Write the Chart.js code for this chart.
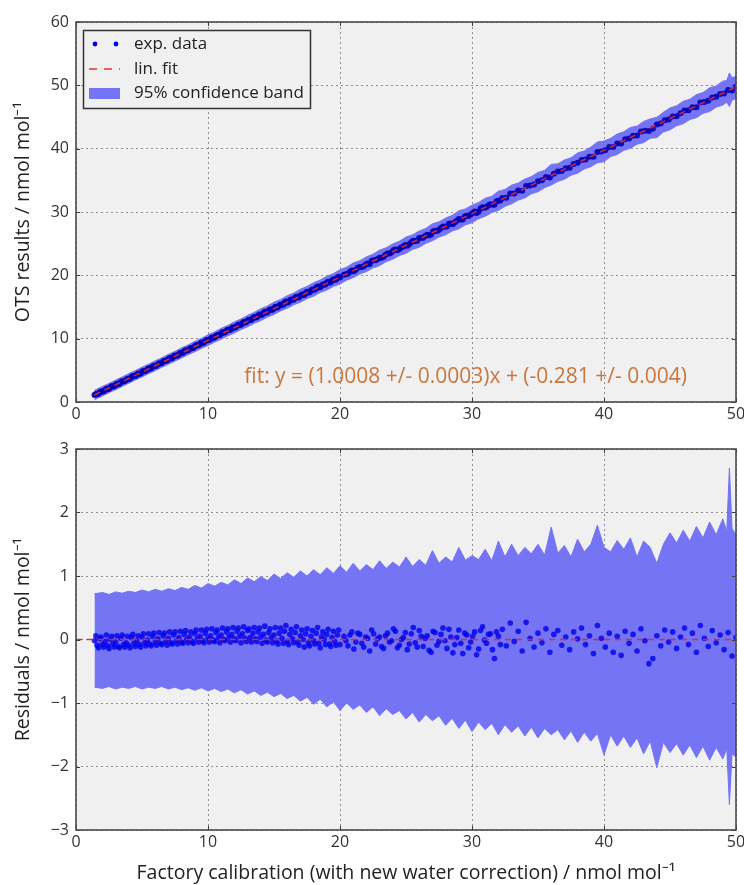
<!DOCTYPE html>
<html>
<head>
<meta charset="utf-8">
<script src="https://cdn.jsdelivr.net/npm/chart.js@4.4.0/dist/chart.umd.min.js"></script>
<style>
html,body{margin:0;padding:0;background:#ffffff;}
#wrap{position:relative;width:744px;height:885px;overflow:hidden;}
#c1{position:absolute;left:0;top:0;width:744px;height:430px;}
#c2{position:absolute;left:0;top:430px;width:744px;height:455px;}
</style>
</head>
<body>
<div id="wrap">
<canvas id="c1" width="744" height="430"></canvas>
<canvas id="c2" width="744" height="455"></canvas>
</div>
<script>
// ---------------- DATA ----------------
// Fit coefficients printed on the chart
const fitSlope = 1.0008;
const fitIntercept = -0.281;
const fitText = 'fit: y = (1.0008 +/- 0.0003)x + (-0.281 +/- 0.004)';

// x range of the fitted line
const fitX = [1.4, 50];
const residualZeroX = [0, 50];

// Experimental points: factory calibration (x) and residuals (OTS - fit)
const dataX = [
  1.4,1.6,1.8,2.0,2.2,2.4,2.6,2.8,3.0,3.2,
  3.4,3.6,3.8,4.0,4.2,4.4,4.6,4.8,5.0,5.2,
  5.4,5.6,5.8,6.0,6.2,6.4,6.6,6.8,7.0,7.2,
  7.4,7.6,7.8,8.0,8.2,8.4,8.6,8.8,9.0,9.2,
  9.4,9.6,9.8,10.0,10.2,10.4,10.6,10.8,11.0,11.2,
  11.4,11.6,11.8,12.0,12.2,12.4,12.6,12.8,13.0,13.2,
  13.4,13.6,13.8,14.0,14.2,14.4,14.6,14.8,15.0,15.2,
  15.4,15.6,15.8,16.0,16.2,16.4,16.6,16.8,17.0,17.2,
  17.4,17.6,17.8,18.0,18.2,18.4,18.6,18.8,19.0,19.2,
  19.4,19.6,19.8,20.0,
  1.5,1.7,1.9,2.1,2.3,2.5,2.7,2.9,3.1,3.3,
  3.5,3.7,3.9,4.1,4.3,4.5,4.7,4.9,5.1,5.3,
  5.5,5.7,5.9,6.1,6.3,6.5,6.7,6.9,7.1,7.3,
  7.5,7.7,7.9,8.1,8.3,8.5,8.7,8.9,9.1,9.3,
  9.5,9.7,9.9,10.1,10.3,10.5,10.7,10.9,11.1,11.3,
  11.5,11.7,11.9,12.1,12.3,12.5,12.7,12.9,13.1,13.3,
  13.5,13.7,13.9,14.1,14.3,14.5,14.7,14.9,15.1,15.3,
  15.5,15.7,15.9,16.1,16.3,16.5,16.7,16.9,17.1,17.3,
  17.5,17.7,17.9,18.1,18.3,18.5,18.7,18.9,19.1,19.3,
  19.5,19.7,19.9,
  20.3,20.6,20.9,21.2,21.5,21.8,22.1,22.4,22.7,23.0,
  23.3,23.6,23.9,24.2,24.5,24.8,25.1,25.4,25.7,26.0,
  26.3,26.6,26.9,27.2,27.5,27.8,28.1,28.4,28.7,29.0,
  29.3,29.6,29.9,30.2,30.5,30.8,31.1,31.4,31.7,32.0,
  32.3,32.6,32.9,33.2,33.5,33.8,34.1,34.4,34.7,35.0,
  35.3,35.6,35.9,36.2,36.5,36.8,37.1,37.4,37.7,38.0,
  38.3,38.6,38.9,39.2,39.5,39.8,40.1,40.4,40.7,41.0,
  41.3,41.6,41.9,42.2,42.5,42.8,43.1,43.4,43.7,44.0,
  44.3,44.6,44.9,45.2,45.5,45.8,46.1,46.4,46.7,47.0,
  47.3,47.6,47.9,48.2,48.5,48.8,49.1,49.4,49.7,50.0,
  20.45,20.75,21.05,21.35,21.65,21.95,22.25,22.55,22.85,23.15,
  23.45,23.75,24.05,24.35,24.65,24.95,25.25,25.55,25.85,26.15,
  26.45,26.75,27.05,27.35,27.65,27.95,28.25,28.55,28.85,29.15,
  29.45,29.75,30.05,30.35,30.65,30.95,31.25,31.55,31.85,32.15
];
const dataRes = [
  -0.02,-0.09,0.01,-0.08,-0.03,-0.10,0.00,-0.07,-0.04,-0.11,
  0.02,-0.08,-0.05,-0.09,0.03,-0.06,-0.02,-0.08,0.04,-0.05,
  -0.01,-0.07,0.05,-0.04,0.01,-0.06,0.06,-0.03,0.02,-0.05,
  0.07,-0.02,0.03,-0.04,0.08,0.00,0.04,-0.03,0.09,0.01,
  0.05,-0.02,0.10,0.02,0.06,-0.01,0.11,0.03,0.07,0.00,
  0.12,0.04,0.08,0.01,0.13,0.05,0.09,0.02,0.14,0.03,
  0.10,0.01,0.12,0.04,0.08,-0.01,0.11,0.03,0.07,-0.02,
  0.10,0.02,0.13,-0.03,0.08,0.01,0.11,-0.04,0.06,0.00,
  0.09,-0.05,0.05,-0.02,0.10,-0.06,0.04,0.00,0.08,-0.07,
  0.03,-0.03,0.07,-0.08,
  0.06,-0.13,0.04,-0.12,0.07,-0.14,0.05,-0.12,0.06,-0.13,
  0.07,-0.12,0.05,-0.13,0.08,-0.11,0.06,-0.12,0.09,-0.10,
  0.09,-0.10,0.10,-0.09,0.11,-0.08,0.10,-0.09,0.12,-0.07,
  0.12,-0.07,0.13,-0.06,0.14,-0.05,0.12,-0.06,0.15,-0.04,
  0.15,-0.05,0.16,-0.04,0.17,-0.03,0.15,-0.05,0.18,-0.02,
  0.17,-0.04,0.19,-0.02,0.18,-0.05,0.20,-0.03,0.17,-0.04,
  0.19,-0.03,0.18,-0.06,0.21,-0.04,0.17,-0.05,0.19,-0.07,
  0.18,-0.06,0.22,-0.08,0.16,-0.05,0.20,-0.09,0.15,-0.12,
  0.17,-0.10,0.14,-0.07,0.19,-0.13,0.12,-0.08,0.16,-0.11,
  0.13,-0.09,0.15,
  0.05,-0.10,0.12,-0.04,0.08,-0.12,0.02,0.15,-0.07,0.04,
  -0.14,0.10,-0.02,0.13,-0.09,0.03,-0.16,0.09,-0.05,0.14,
  -0.11,0.06,-0.20,0.11,-0.03,0.18,-0.14,0.04,-0.08,0.15,
  -0.22,0.07,-0.04,0.12,-0.15,0.20,-0.06,0.09,-0.30,0.05,
  0.16,-0.10,0.26,-0.03,0.13,-0.18,0.27,0.02,-0.12,0.10,
  -0.05,0.17,-0.20,0.08,0.14,-0.09,0.04,-0.16,0.12,0.01,
  0.18,-0.08,0.06,-0.22,0.22,0.02,-0.12,0.10,-0.20,0.05,
  -0.25,0.13,-0.06,0.08,-0.18,0.17,-0.02,-0.38,-0.30,0.06,
  -0.10,0.15,-0.04,0.12,-0.14,0.04,0.18,-0.08,0.10,-0.20,
  0.22,0.02,-0.11,0.14,-0.05,0.07,-0.16,0.11,-0.26,0.03,
  -0.02,0.07,-0.15,0.10,-0.06,0.04,-0.18,0.09,0.01,-0.11,
  0.06,-0.04,0.17,-0.13,0.00,0.11,-0.07,0.19,-0.12,0.05,
  0.02,-0.17,0.13,-0.09,0.08,-0.02,0.16,-0.21,0.03,-0.06,
  0.10,-0.13,0.05,-0.24,0.14,-0.01,0.08,-0.16,0.12,-0.08
];

// 95% confidence band, expressed relative to the fit (residual space)
const bandX = [
  1.4,2,2.5,3,3.5,4,4.5,5,5.5,6,
  6.5,7,7.5,8,8.5,9,9.5,10,10.5,11,
  11.5,12,12.5,13,13.5,14,14.5,15,15.5,16,
  16.5,17,17.5,18,18.5,19,19.5,20,20.5,21,
  21.5,22,22.5,23,23.5,24,24.5,25,25.5,26,
  26.5,27,27.5,28,28.5,29,29.5,30,30.5,31,
  31.5,32,32.5,33,33.5,34,34.5,35,35.5,36,
  36.5,37,37.5,38,38.5,39,39.5,40,40.5,41,
  41.5,42,42.5,43,43.5,44,44.5,45,45.5,46,
  46.5,47,47.5,48,48.5,49,49.3,49.5,49.7,50
];
const bandUpper = [
  0.72,0.74,0.71,0.75,0.73,0.76,0.74,0.78,0.75,0.79,
  0.76,0.80,0.77,0.82,0.79,0.85,0.81,0.88,0.84,0.90,
  0.86,0.94,0.88,0.97,0.91,0.99,0.93,1.03,0.96,1.05,
  0.98,1.08,1.00,1.10,1.02,1.13,1.04,1.16,1.06,1.20,
  1.08,1.18,1.10,1.24,1.12,1.22,1.14,1.30,1.15,1.26,
  1.17,1.40,1.20,1.30,1.22,1.45,1.25,1.32,1.26,1.42,
  1.24,1.55,1.30,1.50,1.32,1.45,1.35,1.50,1.33,1.77,
  1.36,1.48,1.30,1.58,1.38,1.50,1.80,1.45,1.38,1.56,
  1.42,1.60,1.30,1.55,1.45,1.20,1.50,1.68,1.52,1.72,
  1.55,1.78,1.60,1.85,1.65,1.90,1.70,2.70,1.75,1.65
];
const bandLower = [
  -0.75,-0.77,-0.74,-0.78,-0.75,-0.77,-0.74,-0.78,-0.75,-0.77,
  -0.74,-0.78,-0.75,-0.79,-0.76,-0.80,-0.76,-0.81,-0.77,-0.82,
  -0.78,-0.84,-0.79,-0.86,-0.81,-0.88,-0.83,-0.90,-0.85,-0.93,
  -0.88,-0.97,-0.91,-1.02,-0.94,-1.06,-0.98,-1.12,-1.00,-1.10,
  -1.03,-1.15,-1.06,-1.20,-1.09,-1.18,-1.12,-1.25,-1.15,-1.30,
  -1.18,-1.28,-1.20,-1.35,-1.24,-1.40,-1.27,-1.45,-1.30,-1.42,
  -1.32,-1.50,-1.34,-1.46,-1.36,-1.52,-1.38,-1.55,-1.40,-1.50,
  -1.42,-1.58,-1.44,-1.62,-1.46,-1.60,-1.48,-1.82,-1.50,-1.68,
  -1.52,-1.70,-1.55,-1.80,-1.60,-2.02,-1.62,-1.78,-1.64,-1.82,
  -1.66,-1.86,-1.68,-1.90,-1.70,-1.88,-1.72,-2.60,-1.80,-1.85
];

// Axis ticks / labels
const xTicks = {min: 0, max: 50, step: 10};
const yTopTicks = {min: 0, max: 60, step: 10};
const yBotTicks = {min: -3, max: 3, step: 1};
const legendLabels = ['exp. data', 'lin. fit', '95% confidence band'];
const yTopTitle = 'OTS results / nmol mol\u207B\u00B9';
const yBotTitle = 'Residuals / nmol mol\u207B\u00B9';
const xTitle = 'Factory calibration (with new water correction) / nmol mol\u207B\u00B9';

// ---------------- BUILD TABLES ----------------
const fitAt = (x) => fitSlope * x + fitIntercept;
const topPoints = dataX.map((x, i) => ({x: x, y: fitAt(x) + dataRes[i]}));
const topFit = fitX.map(x => ({x: x, y: fitAt(x)}));
const topUpper = bandX.map((x, i) => ({x: x, y: fitAt(x) + bandUpper[i]}));
const topLower = bandX.map((x, i) => ({x: x, y: fitAt(x) + bandLower[i]}));
const botPoints = dataX.map((x, i) => ({x: x, y: dataRes[i]}));
const botFit = residualZeroX.map(x => ({x: x, y: 0}));
const botUpper = bandX.map((x, i) => ({x: x, y: bandUpper[i]}));
const botLower = bandX.map((x, i) => ({x: x, y: bandLower[i]}));

// ---------------- STYLE ----------------
const BG = '#f0f0f0';
const BAND = '#7474f4';
const RED = 'rgba(228,40,40,0.95)';
const TICKFONT = {family: "'Open Sans', sans-serif", size: 16};
const TITLEFONT = {family: "'Open Sans', sans-serif", size: 19.5};
Chart.defaults.font.family = "'Open Sans', sans-serif";

const framePlugin = {
  id: 'frame',
  beforeDraw(chart) {
    const {ctx, chartArea: a} = chart;
    ctx.save();
    ctx.fillStyle = BG;
    ctx.fillRect(a.left, a.top, a.right - a.left, a.bottom - a.top);
    ctx.restore();
  },
  afterDraw(chart) {
    const {ctx, chartArea: a, scales} = chart;
    ctx.save();
    ctx.strokeStyle = '#3c3c3c';
    ctx.lineWidth = 1;
    ctx.beginPath();
    scales.x.ticks.forEach(t => {
      const px = Math.round(scales.x.getPixelForValue(t.value)) + 0.5;
      ctx.moveTo(px, a.bottom); ctx.lineTo(px, a.bottom - 4);
      ctx.moveTo(px, a.top); ctx.lineTo(px, a.top + 4);
    });
    scales.y.ticks.forEach(t => {
      const py = Math.round(scales.y.getPixelForValue(t.value)) + 0.5;
      ctx.moveTo(a.left, py); ctx.lineTo(a.left + 4, py);
      ctx.moveTo(a.right, py); ctx.lineTo(a.right - 4, py);
    });
    ctx.stroke();
    ctx.lineWidth = 1.6;
    ctx.strokeStyle = '#4a4a4a';
    ctx.strokeRect(a.left, a.top, a.right - a.left, a.bottom - a.top);
    ctx.restore();
  }
};

const legendPlugin = {
  id: 'mplLegend',
  afterDraw(chart) {
    const {ctx, chartArea: a} = chart;
    const L = a.left + 7, T = a.top + 8, W = 227, H = 78;
    ctx.save();
    ctx.fillStyle = BG;
    ctx.fillRect(L, T, W, H);
    ctx.lineWidth = 1.5;
    ctx.strokeStyle = '#333';
    ctx.strokeRect(L + 0.5, T + 0.5, W, H);
    const rows = [T + 14, T + 39, T + 63];
    // exp. data: two dots
    ctx.fillStyle = '#0000e6';
    [L + 12, L + 33].forEach(cx => { ctx.beginPath(); ctx.arc(cx, rows[0], 2.4, 0, Math.PI * 2); ctx.fill(); });
    // lin. fit: red dashes
    ctx.strokeStyle = RED; ctx.lineWidth = 1.6; ctx.setLineDash([8, 7]);
    ctx.beginPath(); ctx.moveTo(L + 6, rows[1]); ctx.lineTo(L + 37, rows[1]); ctx.stroke();
    ctx.setLineDash([]);
    // band patch
    ctx.fillStyle = BAND;
    ctx.fillRect(L + 6, rows[2] - 5, 31, 11);
    // labels
    ctx.fillStyle = '#222';
    ctx.font = "17px 'Open Sans', sans-serif";
    ctx.textBaseline = 'middle';
    ctx.textAlign = 'left';
    legendLabels.forEach((s, i) => ctx.fillText(s, L + 51, rows[i]));
    ctx.restore();
  }
};

const fitTextPlugin = {
  id: 'fitText',
  afterDatasetsDraw(chart) {
    const {ctx, scales} = chart;
    ctx.save();
    ctx.fillStyle = '#c8773e';
    ctx.font = "21px 'Open Sans', sans-serif";
    ctx.textBaseline = 'middle';
    ctx.textAlign = 'left';
    ctx.fillText(fitText, scales.x.getPixelForValue(12.75), scales.y.getPixelForValue(3.9));
    ctx.restore();
  }
};

function makeDatasets(fitPts, pts, up, low, dotColor, dotRadius) {
  return [
    {type: 'line', data: fitPts, borderColor: RED, borderWidth: 1.6, borderDash: [6, 5],
     pointRadius: 0, fill: false},
    {type: 'line', data: pts, showLine: false, pointRadius: dotRadius, pointHoverRadius: 0,
     pointBackgroundColor: dotColor, pointBorderWidth: 0, backgroundColor: dotColor, borderColor: dotColor},
    {type: 'line', data: up, borderColor: BAND, borderWidth: 1, pointRadius: 0,
     backgroundColor: BAND, fill: '+1'},
    {type: 'line', data: low, borderColor: BAND, borderWidth: 1, pointRadius: 0,
     backgroundColor: BAND, fill: false}
  ];
}

function makeOptions(yt, yTitleText, xTitleText, padTop, xHeight) {
  return {
    responsive: false,
    animation: false,
    events: [],
    layout: {padding: {top: padTop, right: 8, left: 0, bottom: 0}},
    plugins: {legend: {display: false}, tooltip: {enabled: false}},
    scales: {
      x: {
        type: 'linear', min: xTicks.min, max: xTicks.max, z: 1,
        ticks: {stepSize: xTicks.step, padding: 3, color: '#333', font: TICKFONT, maxRotation: 0},
        grid: {color: '#8e8e8e', lineWidth: 1, drawTicks: false},
        border: {display: false, dash: [2, 3]},
        title: xTitleText ? {display: true, text: xTitleText, color: '#222', font: TITLEFONT,
                             padding: {top: 0, bottom: 0}} : {display: false},
        afterFit(s) { s.height = xHeight; s.paddingLeft = 0; s.paddingRight = 0; }
      },
      y: {
        type: 'linear', min: yt.min, max: yt.max, z: 1,
        ticks: {stepSize: yt.step, padding: 7, color: '#333', font: TICKFONT,
                callback: (v) => String(v).replace('-', '\u2212')},
        grid: {color: '#8e8e8e', lineWidth: 1, drawTicks: false},
        border: {display: false, dash: [2, 3]},
        title: {display: true, text: yTitleText, color: '#222', font: TITLEFONT,
                padding: {top: 12, bottom: 0}},
        afterFit(s) { s.width = 76; s.paddingTop = 0; s.paddingBottom = 0; }
      }
    }
  };
}

new Chart(document.getElementById('c1'), {
  type: 'line',
  data: {datasets: makeDatasets(topFit, topPoints, topUpper, topLower, 'rgba(0,0,185,0.9)', 3)},
  options: makeOptions(yTopTicks, yTopTitle, null, 22, 28),
  plugins: [framePlugin, fitTextPlugin, legendPlugin]
});

new Chart(document.getElementById('c2'), {
  type: 'line',
  data: {datasets: makeDatasets(botFit, botPoints, botUpper, botLower, 'rgba(0,0,235,0.8)', 2.8)},
  options: makeOptions(yBotTicks, yBotTitle, xTitle, 19, 55),
  plugins: [framePlugin]
});
</script>
</body>
</html>
